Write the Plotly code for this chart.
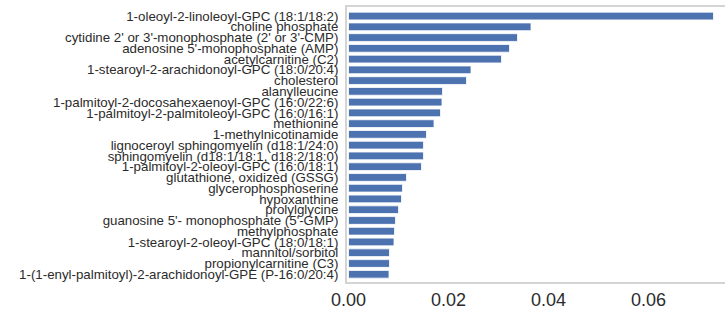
import plotly.graph_objects as go

labels = [
    "1-oleoyl-2-linoleoyl-GPC (18:1/18:2)",
    "choline phosphate",
    "cytidine 2' or 3'-monophosphate (2' or 3'-CMP)",
    "adenosine 5'-monophosphate (AMP)",
    "acetylcarnitine (C2)",
    "1-stearoyl-2-arachidonoyl-GPC (18:0/20:4)",
    "cholesterol",
    "alanylleucine",
    "1-palmitoyl-2-docosahexaenoyl-GPC (16:0/22:6)",
    "1-palmitoyl-2-palmitoleoyl-GPC (16:0/16:1)",
    "methionine",
    "1-methylnicotinamide",
    "lignoceroyl sphingomyelin (d18:1/24:0)",
    "sphingomyelin (d18:1/18:1, d18:2/18:0)",
    "1-palmitoyl-2-oleoyl-GPC (16:0/18:1)",
    "glutathione, oxidized (GSSG)",
    "glycerophosphoserine",
    "hypoxanthine",
    "prolylglycine",
    "guanosine 5'- monophosphate (5'-GMP)",
    "methylphosphate",
    "1-stearoyl-2-oleoyl-GPC (18:0/18:1)",
    "mannitol/sorbitol",
    "propionylcarnitine (C3)",
    "1-(1-enyl-palmitoyl)-2-arachidonoyl-GPE (P-16:0/20:4)",
]
values = [
    0.0730, 0.0365, 0.0338, 0.0322, 0.0306, 0.0245, 0.0236, 0.0188,
    0.0187, 0.0184, 0.0171, 0.0156, 0.0150, 0.0150, 0.0146, 0.0116,
    0.0108, 0.0106, 0.0100, 0.0094, 0.0092, 0.0091, 0.0082, 0.0082,
    0.0081,
]
x_ticks = [0.00, 0.02, 0.04, 0.06]

fig = go.Figure(go.Bar(
    x=values, y=labels, orientation="h",
    marker=dict(color="#4c72b0", line=dict(color="white", width=0.8)),
    width=0.72,
))

fig.update_layout(
    width=725, height=316,
    margin=dict(l=347, r=0, t=7, b=34),
    paper_bgcolor="white", plot_bgcolor="white",
    showlegend=False,
    font=dict(family="Liberation Sans, Arial, sans-serif", color="#2b2b2b"),
)
fig.update_xaxes(
    range=[-0.0003, 0.0753], automargin=False,
    tickvals=x_ticks, ticktext=[f"{v:.2f}" for v in x_ticks],
    tickfont=dict(size=18, color="#2b2b2b"),
    showgrid=False, zeroline=False,
    showline=True, linecolor="#d4d4d4", linewidth=2, mirror=True,
    ticks="", ticklabelstandoff=0,
)
fig.update_yaxes(
    type="category", categoryorder="array", categoryarray=labels,
    autorange=False, range=[len(labels) - 1 + 0.72, -0.84], automargin=False,
    dtick=1, tickfont=dict(size=13.3, color="#2b2b2b"),
    showgrid=False, zeroline=False,
    showline=True, linecolor="#d4d4d4", linewidth=2,
    ticks="", ticklabelstandoff=4,
)

fig.write_html(
    "out.html",
    config={"displayModeBar": False},
    post_script="document.body.style.margin='0';document.body.style.overflow='hidden';",
)
